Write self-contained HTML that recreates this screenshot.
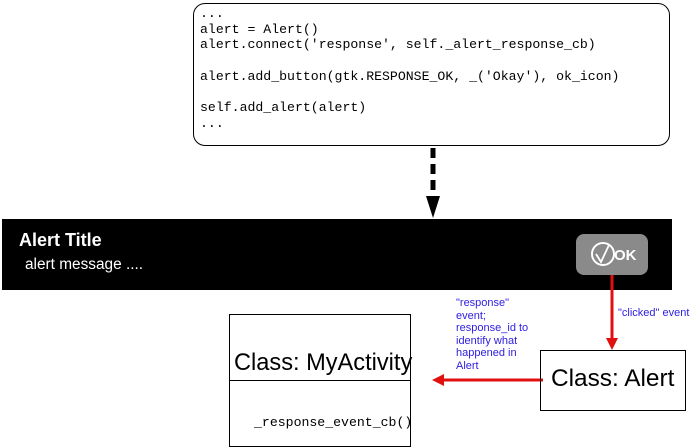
<!DOCTYPE html>
<html><head><style>
body{margin:0;width:700px;height:448px;background:#fff;position:relative;overflow:hidden;font-family:"Liberation Sans",sans-serif}
.a{position:absolute}
.code{left:193px;top:3px;width:477px;height:143px;border:1px solid #000;border-radius:12px;box-sizing:border-box}
.code pre{margin:0;position:absolute;left:6px;top:2px;font-family:"Liberation Mono",monospace;font-size:13.2px;line-height:15.7px;color:#000}
.blue{color:#3020e0;font-size:11px;line-height:12.5px}
</style></head><body>
<div class="a code"><pre>...
alert = Alert()
alert.connect('response', self._alert_response_cb)

alert.add_button(gtk.RESPONSE_OK, _('Okay'), ok_icon)

self.add_alert(alert)
...</pre></div>
<div class="a" style="left:2px;top:219px;width:670px;height:71px;background:#000"></div>
<div class="a" style="left:19px;top:230px;color:#fff;font-weight:bold;font-size:18px">Alert Title</div>
<div class="a" style="left:25px;top:256px;color:#fff;font-size:15.4px">alert message ....</div>
<div class="a" style="left:576px;top:234px;width:72px;height:41px;background:#8a8a8a;border-radius:8px"></div>
<svg class="a" style="left:0;top:0" width="700" height="448">
<circle cx="603" cy="254" r="11" fill="none" stroke="#fff" stroke-width="2"/>
<path d="M596 254 L601 262 L609 245" fill="none" stroke="#fff" stroke-width="1.8"/>
<text x="614" y="260" fill="#fff" font-family="Liberation Sans" font-size="15" font-weight="bold">OK</text>
<line x1="433" y1="148" x2="433" y2="200" stroke="#000" stroke-width="5" stroke-dasharray="10,6"/>
<polygon points="426,196 440,196 433,218" fill="#000"/>
<line x1="612" y1="275" x2="612" y2="340" stroke="#e01010" stroke-width="3"/>
<polygon points="606,338 618,338 612,350" fill="#e01010"/>
<line x1="543" y1="380" x2="442" y2="380" stroke="#e01010" stroke-width="3"/>
<polygon points="444,374 444,386 432,380" fill="#e01010"/>
</svg>
<div class="a" style="left:229px;top:314px;width:182px;height:133px;border:1px solid #000;box-sizing:border-box"></div>
<div class="a" style="left:229px;top:380px;width:182px;height:1px;background:#000"></div>
<div class="a" style="left:234px;top:350px;font-size:23.6px">Class: MyActivity</div>
<div class="a" style="left:254px;top:415px;font-family:'Liberation Mono',monospace;font-size:13.2px">_response_event_cb()</div>
<div class="a" style="left:540px;top:350px;width:146px;height:61px;border:1px solid #000;box-sizing:border-box"></div>
<div class="a" style="left:551px;top:365px;font-size:24.4px">Class: Alert</div>
<div class="a blue" style="left:456px;top:297px;width:90px">"response"<br>event;<br>response_id to<br>identify what<br>happened in<br>Alert</div>
<div class="a blue" style="left:618px;top:307px">"clicked" event</div>
</body></html>
